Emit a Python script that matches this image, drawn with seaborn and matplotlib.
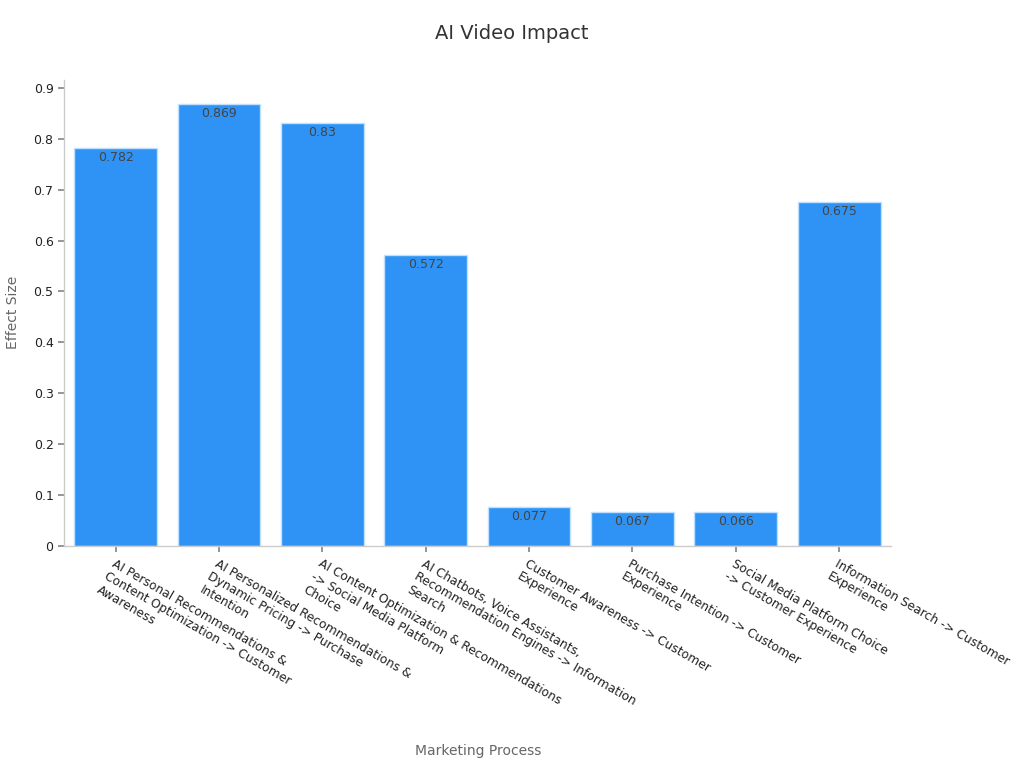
import matplotlib
matplotlib.use("Agg")
import matplotlib.pyplot as plt
import matplotlib.ticker as mticker
import seaborn as sns
import pandas as pd

categories = [
    "AI Personal Recommendations &\nContent Optimization -> Customer\nAwareness",
    "AI Personalized Recommendations &\nDynamic Pricing -> Purchase\nIntention",
    "AI Content Optimization & Recommendations\n-> Social Media Platform\nChoice",
    "AI Chatbots, Voice Assistants,\nRecommendation Engines -> Information\nSearch",
    "Customer Awareness -> Customer\nExperience",
    "Purchase Intention -> Customer\nExperience",
    "Social Media Platform Choice\n-> Customer Experience",
    "Information Search -> Customer\nExperience",
]
effect_sizes = [0.782, 0.869, 0.83, 0.572, 0.077, 0.067, 0.066, 0.675]
value_labels = ["0.782", "0.869", "0.83", "0.572", "0.077", "0.067", "0.066", "0.675"]
y_ticks = [0, 0.1, 0.2, 0.3, 0.4, 0.5, 0.6, 0.7, 0.8, 0.9]

df = pd.DataFrame({"process": categories, "effect": effect_sizes})

sns.set_theme(style="white")
plt.rcParams["font.family"] = ["DejaVu Sans"]

fig = plt.figure(figsize=(10.24, 7.68), dpi=100)
ax = fig.add_axes([0.0625, 0.289, 0.8075, 0.607])

sns.barplot(data=df, x="process", y="effect", color="#2E93F5", saturation=1,
            width=0.8, edgecolor="#BFE0FF", linewidth=1, ax=ax)

ax.set_xlim(-0.5, len(categories) - 0.5)
ax.set_ylim(0, 0.9155)
ax.set_yticks(y_ticks)
ax.yaxis.set_major_formatter(mticker.FuncFormatter(lambda v, p: f"{v:g}"))

for i, (v, lab) in enumerate(zip(effect_sizes, value_labels)):
    ax.text(i, v - 0.006, lab, ha="center", va="top", fontsize=9, color="#444444")

ax.set_xticks(range(len(categories)))
ax.set_xticklabels(categories, rotation=-30, ha="left", rotation_mode="anchor",
                   fontsize=8.8, color="#222222")
ax.tick_params(axis="y", labelsize=9, labelcolor="#222222", length=4,
               color="#888888", left=True)
ax.tick_params(axis="x", length=4, color="#888888", bottom=True, pad=4)

for s in ["top", "right"]:
    ax.spines[s].set_visible(False)
for s in ["left", "bottom"]:
    ax.spines[s].set_color("#CCCCCC")
    ax.spines[s].set_linewidth(1)

ax.set_xlabel("")
ax.set_ylabel("")
fig.text(0.467, 0.022, "Marketing Process", ha="center", va="center",
         fontsize=10, color="#666666")
fig.text(0.013, 0.593, "Effect Size", ha="center", va="center",
         rotation=90, fontsize=10, color="#666666")
fig.text(0.5, 0.957, "AI Video Impact", ha="center", va="center",
         fontsize=14, color="#333333")

fig.savefig("out.png", dpi=100)
